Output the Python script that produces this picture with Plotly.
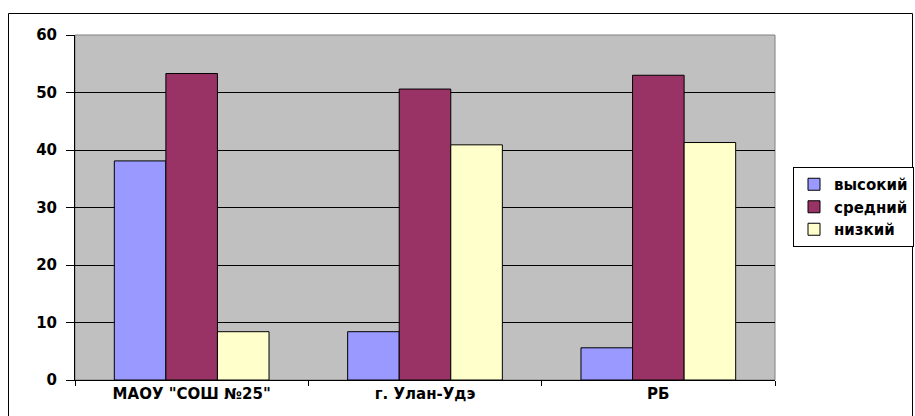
import plotly.graph_objects as go

categories = ['МАОУ "СОШ №25"', 'г. Улан-Удэ', 'РБ']
series_names = ['высокий', 'средний', 'низкий']
vysokiy = [38.1, 8.4, 5.6]
sredniy = [53.3, 50.6, 53.0]
nizkiy = [8.4, 40.9, 41.3]
colors = ['#9999FF', '#993366', '#FFFFCC']
y_ticks = [0, 10, 20, 30, 40, 50, 60]

fig = go.Figure()
for name, vals, col in zip(series_names, [vysokiy, sredniy, nizkiy], colors):
    fig.add_trace(go.Bar(x=categories, y=vals, name=name,
                         marker=dict(color=col, line=dict(color='black', width=1))))

L, R, T, B = 75, 140, 35, 36
W, H = 915, 416
pw, ph = W - L - R, H - T - B

def px_x(p):
    return (p - L) / pw

def px_y(p):
    return (H - B - p) / ph

FONT = 'DejaVu Sans, Verdana, sans-serif'

fig.update_layout(
    width=W, height=H,
    margin=dict(l=L, r=R, t=T, b=B, autoexpand=False),
    barmode='group', bargap=0.337, bargroupgap=0,
    plot_bgcolor='#C0C0C0', paper_bgcolor='white',
    font=dict(family=FONT, size=14, color='black', weight='bold'),
    legend=dict(x=px_x(793), y=px_y(167), xanchor='left', yanchor='top',
                bordercolor='black', borderwidth=1, bgcolor='white',
                font=dict(size=15, family=FONT, weight='bold'),
                tracegroupgap=0, itemwidth=30),
    xaxis=dict(showgrid=False, showline=True, linecolor='black', linewidth=1,
               ticks='outside', tickson='boundaries', ticklen=5, tickcolor='black',
               tickfont=dict(size=15)),
    yaxis=dict(range=[0, 60], tickvals=y_ticks, showgrid=True, gridcolor='black',
               gridwidth=1, showline=True, linecolor='black', linewidth=1,
               ticks='outside', ticklen=8, tickcolor='black', zeroline=False,
               ticklabelstandoff=6, tickfont=dict(size=15)),
    shapes=[
        dict(type='rect', xref='paper', yref='paper', x0=0, x1=1, y0=0, y1=1,
             line=dict(color='#808080', width=1), layer='below'),
        dict(type='rect', xref='paper', yref='paper',
             x0=px_x(8.5), x1=px_x(912.5), y0=px_y(420), y1=px_y(13.5),
             line=dict(color='black', width=1)),
    ],
)

fig.write_html('out.html', config={'displayModeBar': False},
               post_script="document.body.style.margin='0';document.body.style.overflow='hidden';")
